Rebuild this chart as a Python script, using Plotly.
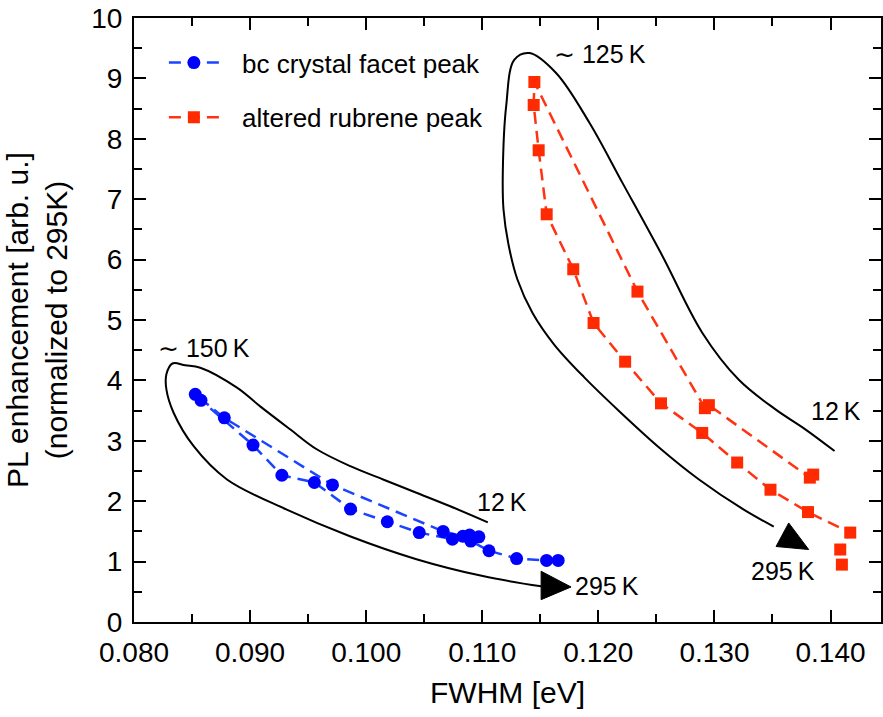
import plotly.graph_objects as go

# ---------------- data ----------------
blue_fwhm = [0.10971, 0.10891, 0.10833, 0.10663, 0.09710, 0.08778, 0.08528,
             0.08577, 0.09025, 0.09274, 0.09554, 0.09865, 0.10182, 0.10457,
             0.10743, 0.10901, 0.11058, 0.11296, 0.11554, 0.11654]
blue_pl = [1.41, 1.44, 1.42, 1.50, 2.27, 3.38, 3.77,
           3.67, 2.93, 2.43, 2.31, 1.87, 1.66, 1.48,
           1.37, 1.34, 1.18, 1.05, 1.02, 1.02]

red_fwhm = [0.13851, 0.13822, 0.12952, 0.12918, 0.12337, 0.11449,
            0.11443, 0.11486, 0.11555, 0.11784, 0.11959, 0.12231, 0.12540,
            0.12895, 0.13196, 0.13483, 0.13806, 0.14170, 0.14084, 0.14098]
red_pl = [2.44, 2.39, 3.59, 3.54, 5.47, 8.94,
          8.56, 7.81, 6.75, 5.84, 4.95, 4.31, 3.62,
          3.13, 2.64, 2.19, 1.82, 1.48, 1.20, 0.95]

x_ticks = [0.080, 0.090, 0.100, 0.110, 0.120, 0.130, 0.140]
x_ticklabels = ["0.080", "0.090", "0.100", "0.110", "0.120", "0.130", "0.140"]
y_ticks = list(range(0, 11))

# guide loops (hand-drawn annotations in the original)
blue_loop_x = [0.11048, 0.10719, 0.10433, 0.10146, 0.09863, 0.09574, 0.09345,
               0.09087, 0.08887, 0.08571, 0.08442, 0.08331, 0.08279, 0.08279,
               0.08342, 0.08514, 0.08801, 0.09316, 0.09860, 0.10433, 0.11005, 0.11507]
blue_loop_y = [1.65, 1.92, 2.14, 2.36, 2.58, 2.86, 3.19,
               3.57, 3.88, 4.21, 4.25, 4.28, 4.10, 3.85,
               3.46, 2.91, 2.36, 1.86, 1.42, 1.04, 0.76, 0.59]
blue_arrow_x = [0.11507, 0.11507, 0.11765, 0.11507]
blue_arrow_y = [0.84, 0.37, 0.58, 0.84]

red_loop_x = [0.14035, 0.13783, 0.13526, 0.13210, 0.12895, 0.12552, 0.12208,
              0.11922, 0.11636, 0.11406, 0.11277, 0.11206, 0.11177, 0.11183,
              0.11226, 0.11303, 0.11432, 0.11621, 0.11879, 0.12180, 0.12523,
              0.12867, 0.13253, 0.13511]
red_loop_y = [2.83, 3.19, 3.52, 4.01, 4.79, 6.06, 7.27,
              8.27, 9.09, 9.42, 9.31, 8.54, 7.44, 6.83,
              6.25, 5.67, 5.12, 4.59, 4.05, 3.49, 2.89,
              2.36, 1.86, 1.58]
red_arrow_x = [0.13640, 0.13531, 0.13812, 0.13640]
red_arrow_y = [1.64, 1.25, 1.20, 1.64]

labels = ["\u223c 150\u2009K", "12\u2009K", "295\u2009K",
          "\u223c 125\u2009K", "12\u2009K", "295\u2009K"]
label_x = [0.08606, 0.11170, 0.12077, 0.12016, 0.14049, 0.13589]
label_y = [4.54, 1.98, 0.59, 9.40, 3.49, 0.85]

FONT = "Liberation Sans, Arial, Helvetica, sans-serif"

fig = go.Figure()

for lx, ly in [(blue_loop_x, blue_loop_y), (red_loop_x, red_loop_y)]:
    fig.add_trace(go.Scatter(x=lx, y=ly, mode="lines",
                             line=dict(color="black", width=2, shape="spline", smoothing=1.0),
                             showlegend=False, hoverinfo="skip"))
for ax_, ay_ in [(blue_arrow_x, blue_arrow_y), (red_arrow_x, red_arrow_y)]:
    fig.add_trace(go.Scatter(x=ax_, y=ay_, mode="lines", fill="toself",
                             fillcolor="black", line=dict(color="black", width=1),
                             showlegend=False, hoverinfo="skip"))

fig.add_trace(go.Scatter(
    x=blue_fwhm, y=blue_pl, mode="lines+markers",
    name="\u2002\u2009bc crystal facet peak",
    legendgroup="a",
    line=dict(color="#1a44ff", width=2.5, dash="12px,7px"),
    marker=dict(symbol="circle", size=13, color="#0000ff")))
fig.add_trace(go.Scatter(
    x=red_fwhm, y=red_pl, mode="lines+markers",
    name="\u2002\u2009altered rubrene peak",
    legendgroup="b",
    line=dict(color="#ff3311", width=2.5, dash="12px,7px"),
    marker=dict(symbol="square", size=12, color="#ff2a00")))

for t, x, y in zip(labels, label_x, label_y):
    fig.add_annotation(x=x, y=y, text=t, showarrow=False,
                       font=dict(family=FONT, size=25, color="black"))

axis_common = dict(
    showline=True, linecolor="black", linewidth=2, mirror="allticks",
    ticks="inside", ticklen=12, tickwidth=2, tickcolor="black",
    showgrid=False, zeroline=False,
    tickfont=dict(family=FONT, size=28, color="black"),
)

fig.update_layout(
    width=883, height=717,
    margin=dict(l=134, r=0, t=18, b=95, pad=0),
    plot_bgcolor="white", paper_bgcolor="white",
    font=dict(family=FONT, color="black"),
    xaxis=dict(range=[0.080, 0.14435], tickvals=x_ticks, ticktext=x_ticklabels,
               ticklabelstandoff=4,
               minor=dict(dtick=0.005, tick0=0.08, ticks="inside", ticklen=8, tickwidth=2, tickcolor="black"),
               title=dict(text="FWHM [eV]", font=dict(family=FONT, size=30)),
               **axis_common),
    yaxis=dict(range=[0, 10], tickvals=y_ticks, ticklabelstandoff=4,
               minor=dict(dtick=0.5, tick0=0, ticks="inside", ticklen=8, tickwidth=2, tickcolor="black"),
               title=dict(text="PL enhancement [arb. u.]<br>(normalized to 295K)",
                          font=dict(family=FONT, size=30)),
               **axis_common),
    legend=dict(x=0.04, y=0.965, xanchor="left", yanchor="top",
                bgcolor="rgba(0,0,0,0)", tracegroupgap=18, itemwidth=50,
                font=dict(family=FONT, size=26, color="black")),
    showlegend=True,
)

fig.write_html("out.html")
